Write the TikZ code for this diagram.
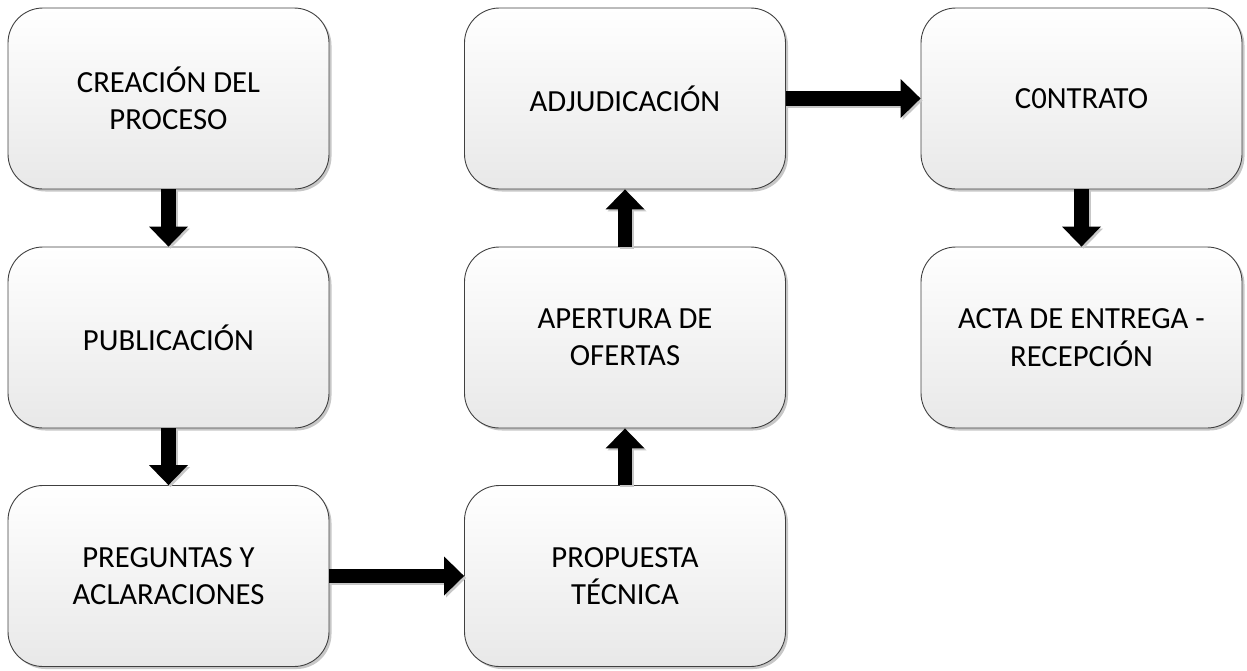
\documentclass[tikz,border=0pt]{standalone}
\usepackage{fontspec}
\setmainfont{Carlito}
\usetikzlibrary{arrows.meta,shadows}
\definecolor{boxline}{HTML}{404040}
\begin{document}
\begin{tikzpicture}[x=1pt,y=1pt,
  stepbox/.style={rectangle, rounded corners=35pt, minimum width=321pt, minimum height=181pt,
    draw=boxline, line width=0.9pt, top color=white, bottom color=black!9, align=center,
    font=\fontsize{30.7}{37.4}\selectfont,
    drop shadow={shadow xshift=2.5pt, shadow yshift=-2.5pt, opacity=0.22, fill=black}},
  flow/.style={line width=14.5pt, -{Triangle[width=39pt,length=20pt,line width=0pt]}},
  flowshadow/.style={flow, draw=black!22, transform canvas={shift={(2pt,-2pt)}}}]
\useasboundingbox (0,0) rectangle (1247,-670);
\node[stepbox] (b1) at (168.5,-98.5) {CREACIÓN DEL\\PROCESO};
\node[stepbox] (b2) at (168.5,-337.5) {PUBLICACIÓN};
\node[stepbox] (b3) at (168.5,-576) {PREGUNTAS Y\\ACLARACIONES};
\node[stepbox] (b4) at (625,-576) {PROPUESTA\\TÉCNICA};
\node[stepbox] (b5) at (625,-337.5) {APERTURA DE\\OFERTAS};
\node[stepbox] (b6) at (625,-98.5) {ADJUDICACIÓN};
\node[stepbox] (b7) at (1081.5,-98.5) {C0NTRATO};
\node[stepbox] (b8) at (1081.5,-337.5) {ACTA DE ENTREGA -\\RECEPCIÓN};
\foreach \s/\t in {b1.south/b2.north, b2.south/b3.north, b3.east/b4.west, b4.north/b5.south,
                   b5.north/b6.south, b6.east/b7.west, b7.south/b8.north}{
  \draw[flowshadow] (\s) -- (\t);
  \draw[flow] (\s) -- (\t);
}
\end{tikzpicture}
\end{document}
